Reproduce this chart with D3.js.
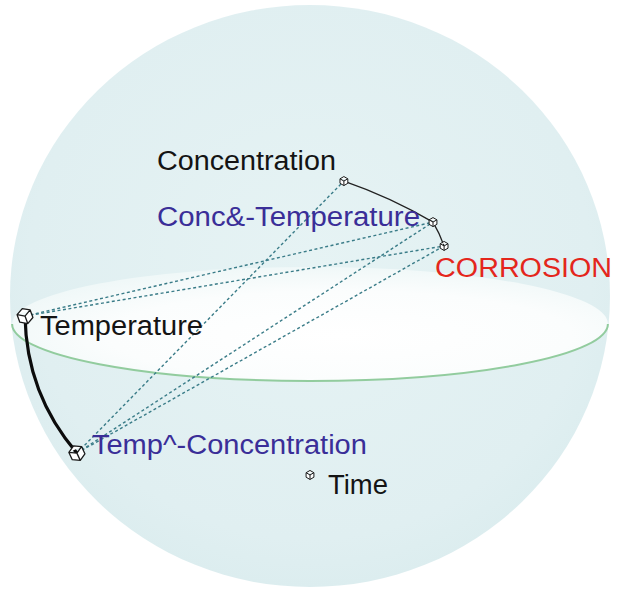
<!DOCTYPE html>
<html>
<head>
<meta charset="utf-8">
<script src="https://cdn.jsdelivr.net/npm/d3@7"></script>
<style>
  html, body { margin: 0; padding: 0; background: #fff; }
  svg { display: block; }
</style>
</head>
<body>
<div id="chart"></div>
<script>
// nodes on the sphere, x right / y up, 1 = sphere radius
const names = ["Concentration", "Conc&-Temperature", "CORROSION", "Temperature", "Temp^-Concentration", "Time"];
const posX = [0.113, 0.41, 0.447, -0.95, -0.777, 0.0];
const posY = [0.395, 0.254, 0.172, -0.069, -0.54, -0.615];
const kinds = ["factor", "combined", "target", "factor", "combined", "factor"];

// links between nodes
const solidLinks = [["Concentration", "Conc&-Temperature"], ["Conc&-Temperature", "CORROSION"]];
const thickLinks = [["Temperature", "Temp^-Concentration"]];
const dashedLinks = [
    ["Temperature", "Conc&-Temperature"],
    ["Temperature", "CORROSION"],
    ["Temp^-Concentration", "Concentration"],
    ["Temp^-Concentration", "Conc&-Temperature"],
    ["Temp^-Concentration", "CORROSION"]
];

// equator disc (same units as nodes)
const equator = {cy: -0.096, rx: 0.993, ry: 0.196};

const width = 622, height = 590;
const x = d3.scaleLinear().domain([-1, 1]).range([10, 610]);
const y = d3.scaleLinear().domain([-1, 1]).range([587, 5]);

const colors = {factor: "#141414", combined: "#3a2e98", target: "#e4261c"};

// label placement (offset from node, text width), cube size and tilt
const layout = {
    "Concentration":       {dx: -187, dy: -11, w: 179, s: 4.5, rot: 0},
    "Conc&-Temperature":   {dx: -276, dy: 4,   w: 263, s: 4.5, rot: 0},
    "CORROSION":           {dx: -9,   dy: 31,  w: 177, s: 4.5, rot: 0},
    "Temperature":         {dx: 15,   dy: 19,  w: 163, s: 8,   rot: -20},
    "Temp^-Concentration": {dx: 15,   dy: 1,   w: 275, s: 8,   rot: -25},
    "Time":                {dx: 18,   dy: 19,  w: 60,  s: 4.5, rot: 0}
};
const bends = {"Concentration>Conc&-Temperature": -0.05, "Conc&-Temperature>CORROSION": -0.05, "Temperature>Temp^-Concentration": 0.18};

const nodes = names.map((n, i) => ({name: n, x: x(posX[i]), y: y(posY[i]), kind: kinds[i]}));
const byName = new Map(nodes.map(d => [d.name, d]));

const svg = d3.select("#chart").append("svg")
    .attr("width", width)
    .attr("height", height);

const defs = svg.append("defs");
const sphereGrad = defs.append("radialGradient").attr("id", "sphereGrad")
    .attr("cx", "50%").attr("cy", "45%").attr("r", "55%");
sphereGrad.append("stop").attr("offset", "0%").attr("stop-color", "#e6f3f4");
sphereGrad.append("stop").attr("offset", "85%").attr("stop-color", "#e0eff1");
sphereGrad.append("stop").attr("offset", "100%").attr("stop-color", "#dcedef");

const discGrad = defs.append("radialGradient").attr("id", "discGrad")
    .attr("cx", "55%").attr("cy", "60%").attr("r", "60%");
discGrad.append("stop").attr("offset", "0%").attr("stop-color", "#ffffff");
discGrad.append("stop").attr("offset", "65%").attr("stop-color", "#fbfdfd");
discGrad.append("stop").attr("offset", "100%").attr("stop-color", "#f0f8f8");

// sphere
svg.append("ellipse")
    .attr("cx", x(0)).attr("cy", y(0))
    .attr("rx", x(1) - x(0)).attr("ry", y(-1) - y(0))
    .attr("fill", "url(#sphereGrad)");

// equator disc
const ecx = x(0), ecy = y(equator.cy);
const erx = x(equator.rx) - x(0), ery = y(equator.cy - equator.ry) - ecy;
svg.append("ellipse")
    .attr("cx", ecx).attr("cy", ecy)
    .attr("rx", erx).attr("ry", ery)
    .attr("fill", "url(#discGrad)");
// front half of the rim
svg.append("path")
    .attr("d", `M${ecx - erx},${ecy} A${erx},${ery} 0 0 0 ${ecx + erx},${ecy}`)
    .attr("fill", "none")
    .attr("stroke", "#92cc9e")
    .attr("stroke-width", 2);

const curve = (a, b, bend) => {
    const mx = (a.x + b.x) / 2, my = (a.y + b.y) / 2;
    const dx = b.x - a.x, dy = b.y - a.y;
    const p = d3.path();
    p.moveTo(a.x, a.y);
    p.quadraticCurveTo(mx - dy * bend, my + dx * bend, b.x, b.y);
    return p.toString();
};
const key = l => l[0] + ">" + l[1];

const links = svg.append("g").attr("fill", "none");

links.selectAll("path.dashed")
    .data(dashedLinks)
    .join("path")
    .attr("class", "dashed")
    .attr("d", l => curve(byName.get(l[0]), byName.get(l[1]), 0))
    .attr("stroke", "#3a7c88")
    .attr("stroke-width", 1.4)
    .attr("stroke-dasharray", "3,2.5");

links.selectAll("path.solid")
    .data(solidLinks)
    .join("path")
    .attr("class", "solid")
    .attr("d", l => curve(byName.get(l[0]), byName.get(l[1]), bends[key(l)] || 0))
    .attr("stroke", "#222")
    .attr("stroke-width", 1.3);

links.selectAll("path.thick")
    .data(thickLinks)
    .join("path")
    .attr("class", "thick")
    .attr("d", l => curve(byName.get(l[0]), byName.get(l[1]), bends[key(l)] || 0))
    .attr("stroke", "#0c0c0c")
    .attr("stroke-width", 3.2);

// small wireframe cube used as node marker
const cubePath = s => {
    const h = s * 0.87, v = s * 0.5;
    const p = d3.path();
    p.moveTo(0, -s);
    p.lineTo(h, -v); p.lineTo(h, v); p.lineTo(0, s);
    p.lineTo(-h, v); p.lineTo(-h, -v); p.closePath();
    p.moveTo(-h, -v); p.lineTo(0, 0); p.lineTo(h, -v);
    p.moveTo(0, 0); p.lineTo(0, s);
    return p.toString();
};

const node = svg.append("g")
    .selectAll("g")
    .data(nodes)
    .join("g")
    .attr("transform", d => `translate(${d.x},${d.y})`);

node.append("path")
    .attr("d", d => cubePath(layout[d.name].s))
    .attr("transform", d => `rotate(${layout[d.name].rot})`)
    .attr("fill", "#fff")
    .attr("stroke", "#1a1a1a")
    .attr("stroke-width", d => layout[d.name].s > 6 ? 1.3 : 1)
    .attr("stroke-linejoin", "round");

node.append("text")
    .attr("x", d => layout[d.name].dx)
    .attr("y", d => layout[d.name].dy)
    .attr("textLength", d => layout[d.name].w)
    .attr("lengthAdjust", "spacingAndGlyphs")
    .attr("font-family", "'Liberation Sans', Arial, sans-serif")
    .attr("font-size", 27)
    .attr("fill", d => colors[d.kind])
    .text(d => d.name);
</script>
</body>
</html>
